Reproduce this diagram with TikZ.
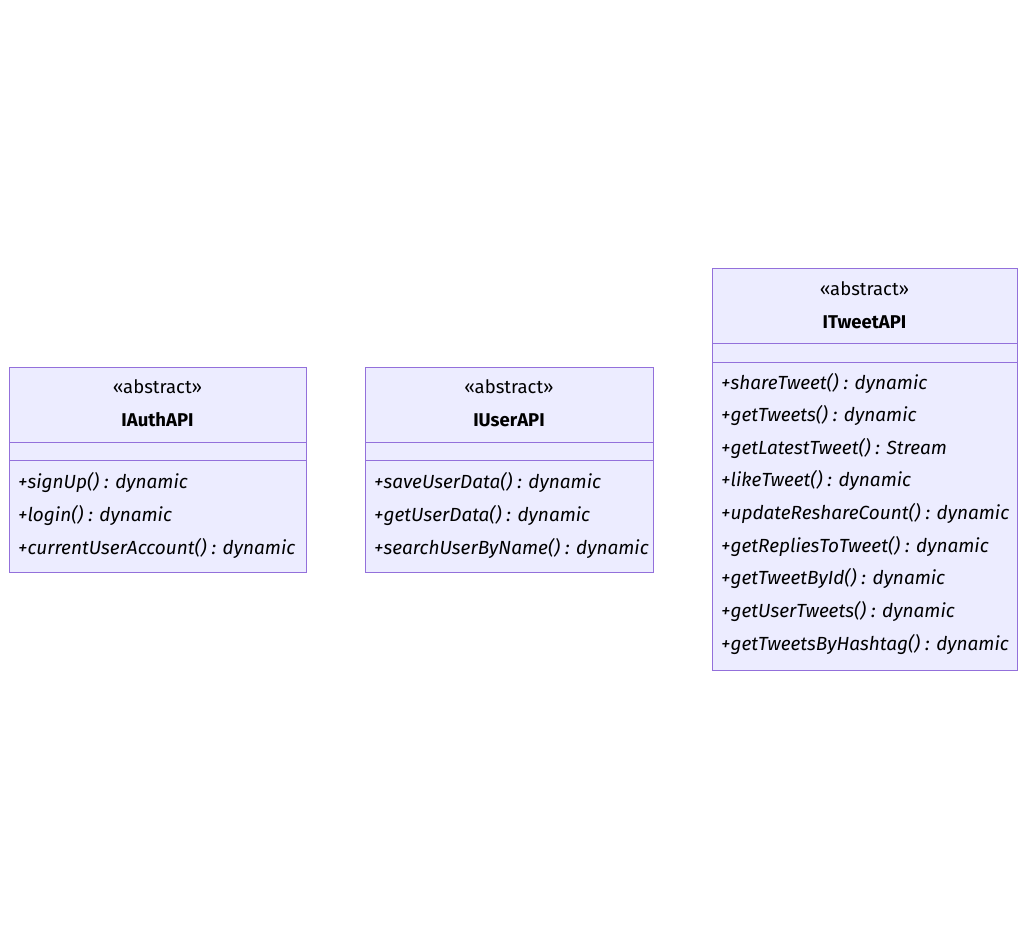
\documentclass[tikz,border=0pt]{standalone}
\usepackage{fontspec}
\setmainfont{Fira Sans}
\definecolor{umlfill}{HTML}{ECECFF}
\definecolor{umlline}{HTML}{9370DB}

\begin{document}
\begin{tikzpicture}[x=1pt,y=-1pt,
  classbox/.style={draw=umlline,fill=umlfill,line width=0.9pt},
  sep/.style={draw=umlline,line width=0.9pt},
  stereo/.style={anchor=base,inner sep=0,font=\fontsize{18.5}{22}\selectfont},
  cname/.style={anchor=base,inner sep=0,font=\bfseries\fontsize{18.5}{22}\selectfont},
  meth/.style={anchor=base west,inner sep=0,font=\itshape\fontsize{19}{22}\selectfont}]
\useasboundingbox (0,0) rectangle (1026,939);
% IAuthAPI
\draw[classbox] (9,367) rectangle (306,572);
\draw[sep] (9,442)--(306,442);
\draw[sep] (9,460)--(306,460);
\node[stereo] (authS) at (157.5,393) {«abstract»};
\node[cname] (authN) at (157.5,426) {IAuthAPI};
\node[meth] (authA) at (18,488) {+signUp() : dynamic};
\node[meth] (authB) at (18,521) {+login() : dynamic};
\node[meth] (authC) at (18,554) {+currentUserAccount() : dynamic};
% IUserAPI
\draw[classbox] (365,367) rectangle (653,572);
\draw[sep] (365,442)--(653,442);
\draw[sep] (365,460)--(653,460);
\node[stereo] (userS) at (509,393) {«abstract»};
\node[cname] (userN) at (509,426) {IUserAPI};
\node[meth] (userA) at (374,488) {+saveUserData() : dynamic};
\node[meth] (userB) at (374,521) {+getUserData() : dynamic};
\node[meth] (userC) at (374,554) {+searchUserByName() : dynamic};
% ITweetAPI
\draw[classbox] (712,268) rectangle (1017,670);
\draw[sep] (712,343)--(1017,343);
\draw[sep] (712,362)--(1017,362);
\node[stereo] (tweetS) at (864.5,295) {«abstract»};
\node[cname] (tweetN) at (864.5,328) {ITweetAPI};
\node[meth] (tweetA) at (721,389) {+shareTweet() : dynamic};
\node[meth] (tweetB) at (721,421.6) {+getTweets() : dynamic};
\node[meth] (tweetC) at (721,454.2) {+getLatestTweet() : Stream};
\node[meth] (tweetD) at (721,486.8) {+likeTweet() : dynamic};
\node[meth] (tweetE) at (721,519.4) {+updateReshareCount() : dynamic};
\node[meth] (tweetF) at (721,552) {+getRepliesToTweet() : dynamic};
\node[meth] (tweetG) at (721,584.6) {+getTweetById() : dynamic};
\node[meth] (tweetH) at (721,617.2) {+getUserTweets() : dynamic};
\node[meth] (tweetI) at (721,650) {+getTweetsByHashtag() : dynamic};
\end{tikzpicture}
\end{document}
